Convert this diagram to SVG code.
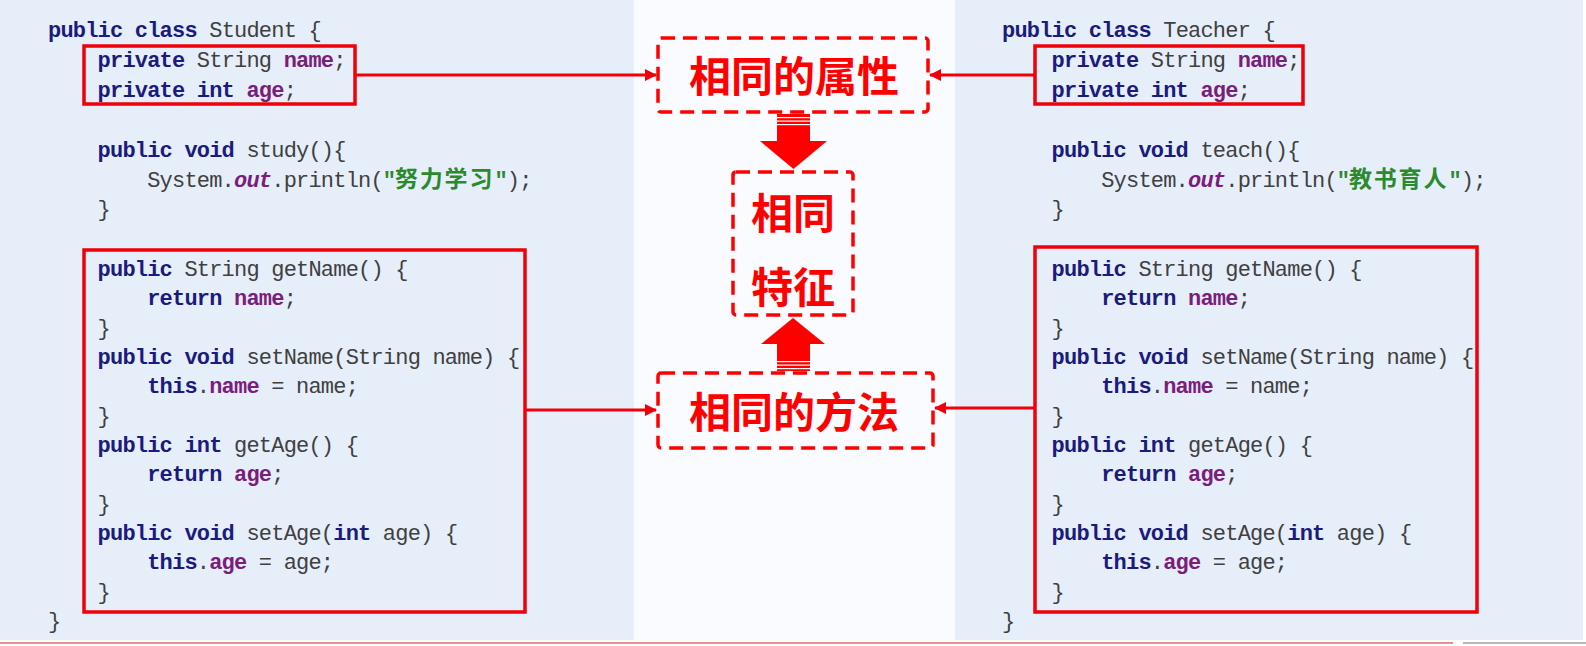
<svg xmlns="http://www.w3.org/2000/svg" width="1586" height="646" viewBox="0 0 1586 646">
<style>
.code{font-family:"Liberation Mono","Noto Sans CJK SC",monospace;font-size:22px;letter-spacing:-0.8px;fill:#404040}
.kw{font-weight:bold;fill:#1b1b7e}
.fd{font-weight:bold;fill:#7a1e7c}
.out{font-weight:bold;font-style:italic;fill:#7a1e7c}
.str{font-weight:bold;fill:#2b8a2b}
.cjk{font-family:"Noto Sans CJK SC",sans-serif;font-size:23px;letter-spacing:1.8px;font-weight:bold;fill:#2b8a2b}
.codebox{fill:none;stroke:#f00008;stroke-width:3.5}
.dash{fill:none;stroke:#ff0000;stroke-width:3.5;stroke-dasharray:14 8}
.big{font-family:"Noto Sans CJK SC",sans-serif;font-size:42px;font-weight:bold;fill:#ff0000;text-anchor:middle}
.conn{stroke:#f00008;stroke-width:3;fill:none}
.bigarrow{fill:#ff0000}
.stripe{fill:#ffffff}
</style>
<defs>
<marker id="ah" markerUnits="userSpaceOnUse" markerWidth="12" markerHeight="12" refX="11" refY="6" orient="auto">
<path d="M0,0 L12,6 L0,12 z" fill="#f00008"/>
</marker>
</defs>

<rect x="0" y="0" width="1586" height="646" fill="#ffffff"/>
<rect x="0" y="0" width="634" height="640" fill="#e6eef9"/>
<rect x="634" y="0" width="321" height="640" fill="#fafbfe"/>
<rect x="955" y="0" width="628" height="640" fill="#e6eef9"/>
<rect x="0" y="642" width="1453" height="2" fill="#ec8f8f"/>
<rect x="1463" y="642" width="123" height="2" fill="#b8b8b8"/>

<g id="student-class">
<text class="code" x="48" y="37"><tspan class="kw">public class</tspan> Student {</text>
<text class="code" x="97.6" y="157"><tspan class="kw">public void</tspan> study(){</text>
<text class="code" x="147.2" y="187">System.<tspan class="out">out</tspan>.println(<tspan class="str">"</tspan><tspan class="cjk" x="395">努力学习</tspan><tspan class="str" x="494.4">"</tspan>);</text>
<text class="code" x="97.6" y="216">}</text>
<text class="code" x="48" y="628">}</text>
</g>

<g id="student-fields">
<rect class="codebox" x="84" y="46" width="271" height="58"/>
<text class="code" x="97.6" y="67"><tspan class="kw">private</tspan> String <tspan class="fd">name</tspan>;</text>
<text class="code" x="97.6" y="97"><tspan class="kw">private int</tspan> <tspan class="fd">age</tspan>;</text>
</g>

<g id="student-methods">
<rect class="codebox" x="84" y="250" width="441" height="362"/>
<text class="code" x="97.6" y="276"><tspan class="kw">public</tspan> String getName() {</text>
<text class="code" x="147.2" y="305.3"><tspan class="kw">return</tspan> <tspan class="fd">name</tspan>;</text>
<text class="code" x="97.6" y="334.7">}</text>
<text class="code" x="97.6" y="364"><tspan class="kw">public void</tspan> setName(String name) {</text>
<text class="code" x="147.2" y="393.3"><tspan class="kw">this</tspan>.<tspan class="fd">name</tspan> = name;</text>
<text class="code" x="97.6" y="422.7">}</text>
<text class="code" x="97.6" y="452"><tspan class="kw">public int</tspan> getAge() {</text>
<text class="code" x="147.2" y="481.3"><tspan class="kw">return</tspan> <tspan class="fd">age</tspan>;</text>
<text class="code" x="97.6" y="510.7">}</text>
<text class="code" x="97.6" y="540"><tspan class="kw">public void</tspan> setAge(<tspan class="kw">int</tspan> age) {</text>
<text class="code" x="147.2" y="569.3"><tspan class="kw">this</tspan>.<tspan class="fd">age</tspan> = age;</text>
<text class="code" x="97.6" y="598.7">}</text>
</g>

<g id="teacher-class">
<text class="code" x="1002" y="37"><tspan class="kw">public class</tspan> Teacher {</text>
<text class="code" x="1051.6" y="157"><tspan class="kw">public void</tspan> teach(){</text>
<text class="code" x="1101.2" y="187">System.<tspan class="out">out</tspan>.println(<tspan class="str">"</tspan><tspan class="cjk" x="1349">教书育人</tspan><tspan class="str" x="1448.4">"</tspan>);</text>
<text class="code" x="1051.6" y="216">}</text>
<text class="code" x="1002" y="628">}</text>
</g>

<g id="teacher-fields">
<rect class="codebox" x="1035" y="46" width="268" height="58"/>
<text class="code" x="1051.6" y="67"><tspan class="kw">private</tspan> String <tspan class="fd">name</tspan>;</text>
<text class="code" x="1051.6" y="97"><tspan class="kw">private int</tspan> <tspan class="fd">age</tspan>;</text>
</g>

<g id="teacher-methods">
<rect class="codebox" x="1035" y="247" width="442" height="365"/>
<text class="code" x="1051.6" y="276"><tspan class="kw">public</tspan> String getName() {</text>
<text class="code" x="1101.2" y="305.3"><tspan class="kw">return</tspan> <tspan class="fd">name</tspan>;</text>
<text class="code" x="1051.6" y="334.7">}</text>
<text class="code" x="1051.6" y="364"><tspan class="kw">public void</tspan> setName(String name) {</text>
<text class="code" x="1101.2" y="393.3"><tspan class="kw">this</tspan>.<tspan class="fd">name</tspan> = name;</text>
<text class="code" x="1051.6" y="422.7">}</text>
<text class="code" x="1051.6" y="452"><tspan class="kw">public int</tspan> getAge() {</text>
<text class="code" x="1101.2" y="481.3"><tspan class="kw">return</tspan> <tspan class="fd">age</tspan>;</text>
<text class="code" x="1051.6" y="510.7">}</text>
<text class="code" x="1051.6" y="540"><tspan class="kw">public void</tspan> setAge(<tspan class="kw">int</tspan> age) {</text>
<text class="code" x="1101.2" y="569.3"><tspan class="kw">this</tspan>.<tspan class="fd">age</tspan> = age;</text>
<text class="code" x="1051.6" y="598.7">}</text>
</g>

<g id="same-attributes">
<rect class="dash" x="658" y="38" width="270" height="74" rx="3"/>
<text class="big" x="794" y="92">相同的属性</text>
</g>

<g id="same-features">
<rect class="dash" x="733" y="172" width="120" height="143" rx="3"/>
<text class="big" x="793" y="229">相同</text>
<text class="big" x="793" y="303">特征</text>
</g>

<g id="same-methods">
<rect class="dash" x="658" y="373" width="275" height="75" rx="3"/>
<text class="big" x="794" y="428">相同的方法</text>
</g>

<g id="connectors">
<line class="conn" x1="355" y1="75" x2="656" y2="75" marker-end="url(#ah)"/>
<line class="conn" x1="1035" y1="75" x2="930" y2="75" marker-end="url(#ah)"/>
<line class="conn" x1="525" y1="410" x2="656" y2="410" marker-end="url(#ah)"/>
<line class="conn" x1="1035" y1="408" x2="935" y2="408" marker-end="url(#ah)"/>
<g id="arrow-down">
<rect class="bigarrow" x="777" y="114" width="33" height="28"/>
<polygon class="bigarrow" points="760,141 827,141 793.5,169"/>
<rect class="stripe" x="777" y="117" width="33" height="1.2"/>
<rect class="stripe" x="777" y="120.5" width="33" height="1.2"/>
<rect class="stripe" x="777" y="124" width="33" height="1.2"/>
</g>
<g id="arrow-up">
<rect class="bigarrow" x="777" y="343" width="33" height="28"/>
<polygon class="bigarrow" points="761,344 825,344 793,318"/>
<rect class="stripe" x="777" y="361" width="33" height="1.2"/>
<rect class="stripe" x="777" y="364.5" width="33" height="1.2"/>
<rect class="stripe" x="777" y="368" width="33" height="1.2"/>
</g>
</g>
</svg>
